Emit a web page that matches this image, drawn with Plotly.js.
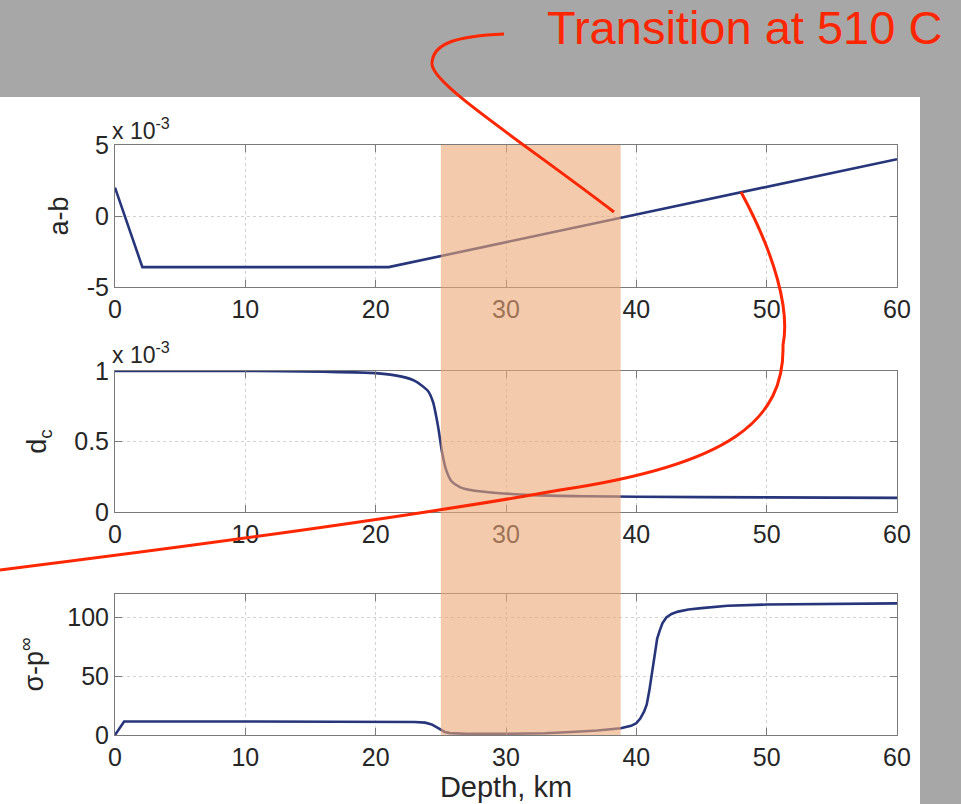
<!DOCTYPE html>
<html>
<head>
<meta charset="utf-8">
<script src="https://cdn.plot.ly/plotly-3.0.1.min.js"></script>
<style>html,body{margin:0;padding:0;background:#a7a7a7;}#chart{width:961px;height:804px;}</style>
</head>
<body>
<div id="chart"></div>
<script>
// ---- data ----
// panel 1: a-b (values in units of 1e-3)
const abDepth = [0, 2.1, 21, 60];
const abValue = [2.0, -3.6, -3.6, 4.0];

// panel 2: d_c (values in units of 1e-3)
const dcDepth = [0, 10, 16, 20, 22, 23, 24, 24.4, 24.8, 25.1, 25.4, 25.8, 26.5, 27.5, 29.3, 32, 36, 40, 50, 60];
const dcValue = [1.0, 1.0, 0.995, 0.985, 0.96, 0.93, 0.86, 0.78, 0.6, 0.42, 0.3, 0.22, 0.175, 0.152, 0.135, 0.12, 0.112, 0.108, 0.104, 0.1];

// panel 3: sigma - p_infinity
const spDepth = [0, 0.7, 10, 20, 23, 23.8, 24.3, 24.7, 25, 25.3, 25.7, 26.3, 27, 30, 33, 35, 37, 38.8, 39.6, 40, 40.3, 40.6, 40.8, 41, 41.2, 41.4, 41.6, 41.8, 42, 42.3, 42.7, 43.2, 44, 45, 47, 50, 60];
const spValue = [0, 11.5, 11.5, 11.3, 11.0, 10.5, 9, 6.5, 4.3, 2.6, 1.6, 1.1, 1, 1, 1.5, 2.5, 3.8, 5.7, 7.8, 10, 14, 20, 26, 38, 52, 70, 82, 89, 95, 100, 103, 105, 106.8, 108, 110, 111, 112];

// transition band (depth, km)
const bandDepth = [25, 38.8];

const xTicks = [0, 10, 20, 30, 40, 50, 60];
const abTicks = [-5, 0, 5];
const dcTicks = [0, 0.5, 1];
const spTicks = [0, 50, 100];

const yLabels = ['a-b', 'd<sub>c</sub>', 'σ-p<sup>∞</sup>'];
const xLabel = 'Depth, km';
const exponentLabel = 'x 10<sup>-3</sup>';
const noteText = 'Transition at 510 C';

// ---- geometry helpers ----
const W = 961, H = 804;
const px = v => v / W;
const py = v => 1 - v / H;
function pathToPaper(cmds) {
  return cmds.map(c => {
    if (typeof c === 'string') return c;
    return px(c[0]).toFixed(5) + ',' + py(c[1]).toFixed(5);
  }).join(' ');
}

const FONT = '"Liberation Sans", Arial, Helvetica, sans-serif';
const lineColor = '#27357a';
const axColor = '#7a7a7a';
const gridColor = '#d2d2d2';
const RED = '#ff2600';
const TXT = '#262626';

const xDom = [px(115), px(897)];
const dom1 = [py(287), py(145)];
const dom2 = [py(512), py(371)];
const dom3 = [py(735), py(594)];

function xAx(anchor, extra) {
  return Object.assign({
    domain: xDom, anchor: anchor, range: [0, 60],
    tickmode: 'array', tickvals: xTicks, ticktext: xTicks.map(String),
    ticks: 'inside', ticklen: 7, tickcolor: axColor, tickwidth: 1,
    showline: true, linecolor: axColor, linewidth: 1, mirror: 'allticks',
    showgrid: true, gridcolor: gridColor, griddash: 'dot', gridwidth: 1,
    zeroline: false,
    tickfont: {family: FONT, size: 25, color: TXT},
    fixedrange: true
  }, extra || {});
}
function yAx(anchor, dom, range, ticks, title, standoff) {
  return {
    domain: dom, anchor: anchor, range: range,
    tickmode: 'array', tickvals: ticks, ticktext: ticks.map(String),
    ticks: 'inside', ticklen: 7, tickcolor: axColor, tickwidth: 1,
    showline: true, linecolor: axColor, linewidth: 1, mirror: 'allticks',
    showgrid: true, gridcolor: gridColor, griddash: 'dot', gridwidth: 1,
    zeroline: false,
    tickfont: {family: FONT, size: 25, color: TXT},
    title: {text: title, font: {family: FONT, size: 27, color: TXT}, standoff: standoff},
    fixedrange: true
  };
}

const traces = [
  {x: abDepth, y: abValue, xaxis: 'x', yaxis: 'y', type: 'scatter', mode: 'lines',
   line: {color: lineColor, width: 2.6}, hoverinfo: 'skip'},
  {x: dcDepth, y: dcValue, xaxis: 'x2', yaxis: 'y2', type: 'scatter', mode: 'lines',
   line: {color: lineColor, width: 2.6, shape: 'spline', smoothing: 0.7}, hoverinfo: 'skip'},
  {x: spDepth, y: spValue, xaxis: 'x3', yaxis: 'y3', type: 'scatter', mode: 'lines',
   line: {color: lineColor, width: 2.6}, hoverinfo: 'skip'}
];

const curve1 = pathToPaper(['M', [504, 34], 'C', [460, 36], [432, 42], [432, 64],
                            'C', [432, 84], [520, 140], [614, 212]]);
const curve2 = pathToPaper(['M', [741, 192], 'C', [775, 255], [790, 310], [783, 345],
                            'C', [785, 420], [730, 465], [560, 490],
                            'C', [420, 515], [200, 545], [0, 570]]);

const layout = {
  width: W, height: H,
  margin: {l: 0, r: 0, t: 0, b: 0},
  paper_bgcolor: '#a7a7a7',
  plot_bgcolor: '#ffffff',
  showlegend: false,
  xaxis: xAx('y'),
  xaxis2: xAx('y2'),
  xaxis3: xAx('y3', {title: {text: xLabel, font: {family: FONT, size: 29, color: TXT}, standoff: 2}}),
  yaxis: yAx('x', dom1, [-5, 5], abTicks, yLabels[0], 10),
  yaxis2: yAx('x2', dom2, [0, 1], dcTicks, yLabels[1], 19),
  yaxis3: yAx('x3', dom3, [0, 120], spTicks, yLabels[2], 15),
  shapes: [
    {type: 'rect', xref: 'paper', yref: 'paper', x0: 0, x1: px(920), y0: 0, y1: py(97),
     fillcolor: '#ffffff', line: {width: 0}, layer: 'below'},
    {type: 'rect', xref: 'x', yref: 'paper', x0: bandDepth[0], x1: bandDepth[1], y0: py(735), y1: py(145),
     fillcolor: 'rgba(236,166,116,0.6)', line: {width: 0}, layer: 'above'},
    {type: 'path', xref: 'paper', yref: 'paper', path: curve1,
     line: {color: RED, width: 3}, layer: 'above'},
    {type: 'path', xref: 'paper', yref: 'paper', path: curve2,
     line: {color: RED, width: 3}, layer: 'above'}
  ],
  annotations: [
    {xref: 'paper', yref: 'paper', x: px(110), y: py(129), xanchor: 'left', yanchor: 'middle',
     text: exponentLabel, showarrow: false, font: {family: FONT, size: 23, color: TXT}},
    {xref: 'paper', yref: 'paper', x: px(110), y: py(353), xanchor: 'left', yanchor: 'middle',
     text: exponentLabel, showarrow: false, font: {family: FONT, size: 23, color: TXT}},
    {xref: 'paper', yref: 'paper', x: px(744), y: py(28), xanchor: 'center', yanchor: 'middle',
     text: noteText, showarrow: false, font: {family: FONT, size: 47, color: RED}}
  ]
};

Plotly.newPlot('chart', traces, layout, {staticPlot: true, displayModeBar: false});
</script>
</body>
</html>
